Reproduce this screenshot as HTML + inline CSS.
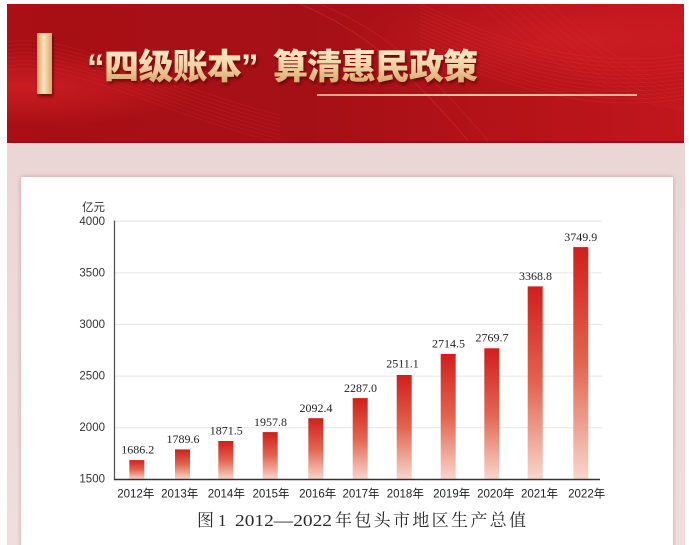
<!DOCTYPE html>
<html><head><meta charset="utf-8">
<style>
html,body{margin:0;padding:0;background:#fff;width:689px;height:545px;overflow:hidden}
svg{display:block}
</style></head>
<body>
<svg width="689" height="545" viewBox="0 0 689 545" xmlns="http://www.w3.org/2000/svg">
<defs>
  <clipPath id="bclip"><rect x="7" y="4" width="677" height="139"/></clipPath>
  <linearGradient id="bg" x1="0" y1="0" x2="1" y2="0">
    <stop offset="0" stop-color="#a90f15"/>
    <stop offset="0.45" stop-color="#a51016"/>
    <stop offset="0.75" stop-color="#b51319"/>
    <stop offset="1" stop-color="#c0161c"/>
  </linearGradient>
  <radialGradient id="glowL" cx="0.02" cy="0.6" r="0.28">
    <stop offset="0" stop-color="#e0262a" stop-opacity="0.6"/>
    <stop offset="1" stop-color="#e0262a" stop-opacity="0"/>
  </radialGradient>
  <radialGradient id="glowR" cx="0.85" cy="0.25" r="0.35">
    <stop offset="0" stop-color="#d8242a" stop-opacity="0.55"/>
    <stop offset="1" stop-color="#d8242a" stop-opacity="0"/>
  </radialGradient>
  <linearGradient id="gold" x1="0" y1="0" x2="0" y2="1">
    <stop offset="0" stop-color="#fff4df"/>
    <stop offset="0.5" stop-color="#f3d6a6"/>
    <stop offset="1" stop-color="#cf9658"/>
  </linearGradient>
  <linearGradient id="goldbar" x1="0" y1="0" x2="1" y2="0">
    <stop offset="0" stop-color="#d5a062"/>
    <stop offset="0.45" stop-color="#fbe5bf"/>
    <stop offset="1" stop-color="#d9a566"/>
  </linearGradient>
  <linearGradient id="uline" x1="0" y1="0" x2="1" y2="0">
    <stop offset="0" stop-color="#f2c29e" stop-opacity="0.8"/>
    <stop offset="0.5" stop-color="#f5c8a6"/>
    <stop offset="1" stop-color="#f0c0a0" stop-opacity="0.9"/>
  </linearGradient>
  <linearGradient id="barg" x1="0" y1="0" x2="0" y2="1">
    <stop offset="0" stop-color="#d01f1b"/>
    <stop offset="0.5" stop-color="#e2644f"/>
    <stop offset="1" stop-color="#f8d6ca"/>
  </linearGradient>
  <linearGradient id="pink" x1="0" y1="0" x2="0" y2="1">
    <stop offset="0" stop-color="#ebd6d6"/>
    <stop offset="1" stop-color="#efdede"/>
  </linearGradient>
  <filter id="ts" x="-10%" y="-20%" width="130%" height="150%">
    <feDropShadow dx="1.5" dy="2.5" stdDeviation="1.5" flood-color="#4a0000" flood-opacity="0.65"/>
  </filter>
  <filter id="cs" x="-5%" y="-5%" width="110%" height="110%">
    <feDropShadow dx="0" dy="0" stdDeviation="2.5" flood-color="#b06a6a" flood-opacity="0.55"/>
  </filter>
  <path id="wa" d="M 420 4 C 500 40, 580 70, 684 55" fill="none" stroke="#e8393c" stroke-opacity="0.28" stroke-width="0.7"/>
  <path id="wb" d="M 7 70 C 70 60, 150 110, 280 143" fill="none" stroke="#e8393c" stroke-opacity="0.25" stroke-width="0.7"/>
  <path id="wc" d="M 480 4 C 540 60, 610 100, 684 110" fill="none" stroke="#e8393c" stroke-opacity="0.22" stroke-width="0.7"/>
</defs>

<!-- banner -->
<rect x="7" y="4" width="677" height="139" fill="url(#bg)"/>
<rect x="7" y="4" width="677" height="139" fill="url(#glowL)"/>
<rect x="7" y="4" width="677" height="139" fill="url(#glowR)"/>
<g clip-path="url(#bclip)">
  <use href="#wa"/><use href="#wa" transform="translate(0,4)"/><use href="#wa" transform="translate(0,8)"/>
  <use href="#wa" transform="translate(0,12)"/><use href="#wa" transform="translate(0,16)"/><use href="#wa" transform="translate(0,20)"/>
  <use href="#wa" transform="translate(0,24)"/><use href="#wa" transform="translate(0,28)"/><use href="#wa" transform="translate(0,32)"/>
  <use href="#wa" transform="translate(0,36)"/><use href="#wa" transform="translate(0,40)"/><use href="#wa" transform="translate(0,44)"/>
  <use href="#wc"/><use href="#wc" transform="translate(10,0)"/><use href="#wc" transform="translate(20,0)"/>
  <use href="#wc" transform="translate(30,0)"/><use href="#wc" transform="translate(40,0)"/><use href="#wc" transform="translate(50,0)"/>
  <use href="#wc" transform="translate(60,0)"/><use href="#wc" transform="translate(70,0)"/>
  <use href="#wb"/><use href="#wb" transform="translate(0,-4)"/><use href="#wb" transform="translate(0,-8)"/>
  <use href="#wb" transform="translate(0,-12)"/><use href="#wb" transform="translate(0,-16)"/><use href="#wb" transform="translate(0,-20)"/>
  <use href="#wb" transform="translate(0,-24)"/><use href="#wb" transform="translate(0,-28)"/>
  <path d="M 300 4 C 360 30, 400 60, 470 143" fill="none" stroke="#e8393c" stroke-opacity="0.35" stroke-width="1"/>
  <path d="M 320 4 C 380 30, 420 60, 490 143" fill="none" stroke="#e8393c" stroke-opacity="0.25" stroke-width="1"/>
</g>
<rect x="7" y="141" width="677" height="2" fill="#9a0e13"/>

<!-- gold bar -->
<rect x="37" y="33" width="15" height="61" fill="url(#goldbar)" filter="url(#ts)"/>

<!-- title -->
<g filter="url(#ts)" fill="url(#gold)" font-weight="900" font-size="35">
  <text x="87" y="79" font-family="'Liberation Sans', sans-serif" font-weight="700">“</text>
  <text x="104" y="79" font-family="'Noto Sans CJK SC', sans-serif" textLength="138" lengthAdjust="spacing">四级账本</text>
  <text x="241" y="79" font-family="'Liberation Sans', sans-serif" font-weight="700">”</text>
  <text x="273" y="79" font-family="'Noto Sans CJK SC', sans-serif" textLength="205" lengthAdjust="spacing">算清惠民政策</text>
</g>
<rect x="317" y="94" width="320" height="2" fill="url(#uline)"/>

<!-- pink area -->
<rect x="7" y="143" width="678" height="402" fill="url(#pink)"/>

<!-- card -->
<rect x="21" y="177" width="652" height="380" fill="#ffffff" filter="url(#cs)"/>

<!-- grid -->
<g stroke="#e6e6e6" stroke-width="1">
  <line x1="114" y1="221.3" x2="602" y2="221.3"/>
  <line x1="114" y1="272.9" x2="602" y2="272.9"/>
  <line x1="114" y1="324.5" x2="602" y2="324.5"/>
  <line x1="114" y1="376.1" x2="602" y2="376.1"/>
  <line x1="114" y1="427.7" x2="602" y2="427.7"/>
</g>

<!-- y labels -->
<g font-family="'Liberation Sans', 'Noto Sans CJK SC', sans-serif" font-size="11.5" fill="#333" text-anchor="end">
  <text x="105" y="211">亿元</text>
  <text x="105" y="225">4000</text>
  <text x="105" y="276.5">3500</text>
  <text x="105" y="328">3000</text>
  <text x="105" y="379.6">2500</text>
  <text x="105" y="431.2">2000</text>
  <text x="105" y="482.5">1500</text>
</g>

<!-- bars -->
<g fill="url(#barg)">
  <rect x="129.3" y="460.1" width="15" height="19.2"/>
  <rect x="175" y="449.4" width="15" height="29.9"/>
  <rect x="218.3" y="441.0" width="15" height="38.3"/>
  <rect x="262.7" y="432.1" width="15" height="47.2"/>
  <rect x="308.3" y="418.2" width="15" height="61.1"/>
  <rect x="352.7" y="398.1" width="15" height="81.2"/>
  <rect x="396.7" y="375.0" width="15" height="104.3"/>
  <rect x="440.7" y="354.0" width="15" height="125.3"/>
  <rect x="484.3" y="348.3" width="15" height="131.0"/>
  <rect x="527.7" y="286.4" width="15" height="192.9"/>
  <rect x="573.3" y="247.1" width="15" height="232.2"/>
</g>

<!-- axes -->
<line x1="114.5" y1="220.5" x2="114.5" y2="480" stroke="#555" stroke-width="1.3"/>
<line x1="114" y1="479.5" x2="600" y2="479.5" stroke="#333" stroke-width="1.5"/>

<!-- value labels -->
<g font-family="'Liberation Serif', serif" font-size="12" fill="#222" text-anchor="middle">
  <text x="137.8" y="453.5">1686.2</text>
  <text x="183" y="443">1789.6</text>
  <text x="226.3" y="434.6">1871.5</text>
  <text x="270.5" y="425.8">1957.8</text>
  <text x="316" y="411.8">2092.4</text>
  <text x="360.5" y="391.8">2287.0</text>
  <text x="402.5" y="367.5">2511.1</text>
  <text x="448.5" y="347.5">2714.5</text>
  <text x="492" y="341.5">2769.7</text>
  <text x="535.5" y="280">3368.8</text>
  <text x="580.8" y="240.8">3749.9</text>
</g>

<!-- x labels -->
<g font-family="'Liberation Sans', 'Noto Sans CJK SC', sans-serif" font-size="11.5" fill="#222" text-anchor="middle">
  <text x="135.8" y="497.5">2012年</text>
  <text x="179.7" y="497.5">2013年</text>
  <text x="226.3" y="497.5">2014年</text>
  <text x="271" y="497.5">2015年</text>
  <text x="317.7" y="497.5">2016年</text>
  <text x="361" y="497.5">2017年</text>
  <text x="405.3" y="497.5">2018年</text>
  <text x="451.7" y="497.5">2019年</text>
  <text x="495.7" y="497.5">2020年</text>
  <text x="539.5" y="497.5">2021年</text>
  <text x="586.7" y="497.5">2022年</text>
</g>

<!-- caption -->
<g font-family="'Liberation Serif', 'Noto Serif CJK SC', serif" font-size="17" fill="#2a2a2a">
  <text x="197" y="526">图</text>
  <text x="218" y="526">1</text>
  <text x="235" y="526" textLength="97" lengthAdjust="spacingAndGlyphs">2012—2022</text>
  <text x="335" y="526" textLength="191" lengthAdjust="spacing">年包头市地区生产总值</text>
</g>
</svg>
</body></html>
